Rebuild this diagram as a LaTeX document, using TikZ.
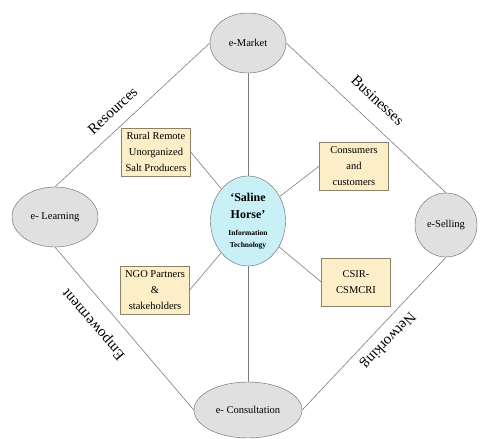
\documentclass[tikz,border=0pt]{standalone}
\usepackage{fontspec}
\setmainfont{Liberation Serif}
\usetikzlibrary{shapes.geometric}

\definecolor{ovalfill}{RGB}{224,224,224}
\definecolor{ovaledge}{RGB}{100,100,100}
\definecolor{hubfill}{RGB}{200,240,246}
\definecolor{boxfill}{RGB}{252,238,198}
\definecolor{boxedge}{RGB}{140,130,105}
\definecolor{linegray}{RGB}{125,125,125}

\newcommand{\bigline}[1]{{\fontsize{12}{12}\selectfont #1}}

\begin{document}
\begin{tikzpicture}[x=1pt, y=1pt,
    oval/.style={ellipse, draw=ovaledge, fill=ovalfill, inner sep=0pt,
    font=\fontsize{10.5}{12}\selectfont},
    hubnode/.style={ellipse, draw=ovaledge, fill=hubfill, inner sep=0pt,
    minimum width=75pt, minimum height=90pt, align=center,
    font=\bfseries\fontsize{7.5}{12}\selectfont},
    actor/.style={rectangle, draw=boxedge, fill=boxfill, inner sep=2pt,
    minimum width=69pt, minimum height=48pt, align=center,
    font=\fontsize{10.5}{16}\selectfont},
    link/.style={draw=linegray, line width=0.6pt},
    tag/.style={sloped, allow upside down, font=\fontsize{15}{18}\selectfont}]

    \useasboundingbox (0,0) rectangle (488,-439);

    \node (hub) [hubnode] at (248,-221) {\bigline{‘Saline}\\[5pt]\bigline{Horse’}\\[5pt]
        Information\\Technology};
    \node (mkt) [oval, minimum width=76pt, minimum height=60pt] at (248,-43) {e-Market};
    \node (lrn) [oval, minimum width=86pt, minimum height=60pt] at (55,-217) {e- Learning};
    \node (sel) [oval, minimum width=62pt, minimum height=64pt] at (446,-225) {e-Selling};
    \node (cons) [oval, minimum width=108pt, minimum height=56pt] at (248,-410) {e- Consultation};

    \node (rural) [actor] at (156,-152) {Rural Remote\\Unorganized\\Salt Producers};
    \node (cust) [actor] at (354,-166) {Consumers\\and\\customers};
    \node (ngo) [actor] at (155,-290) {NGO Partners\\\&\\stakeholders};
    \node (csir) [actor] at (356,-282) {CSIR-\\CSMCRI};

    \draw[link] (lrn.north) -- node[tag, above=8pt, pos=0.445] {Resources} (mkt.west);
    \draw[link] (mkt.east) -- node[tag, above=12pt, pos=0.484] {Businesses} (sel.north);
    \draw[link] (cons.west) -- node[tag, above=10pt, pos=0.608] {Empowerment} (lrn.south);
    \draw[link] (sel.south) -- node[tag, above=4pt, pos=0.477] {Networking} (cons.east);

    \draw[link] (mkt) -- (hub);
    \draw[link] (hub) -- (cons);
    \draw[link] (rural.east) -- (hub);
    \draw[link] (cust.west) -- (hub);
    \draw[link] (ngo.east) -- (hub);
    \draw[link] (csir.west) -- (hub);
\end{tikzpicture}
\end{document}
